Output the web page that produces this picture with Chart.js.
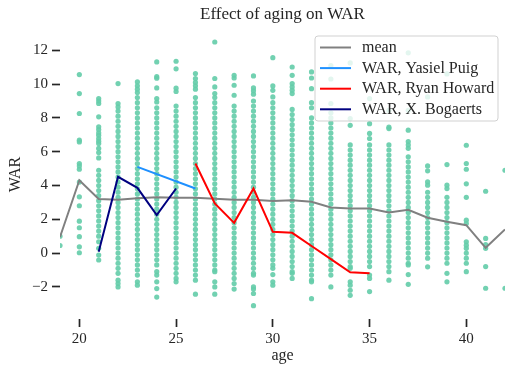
<!DOCTYPE html>
<html>
<head>
<meta charset="utf-8">
<script src="https://cdn.jsdelivr.net/npm/chart.js@4/dist/chart.umd.min.js"></script>
<style>
html,body{margin:0;padding:0;background:#fff;}
#wrap{width:524px;height:374px;}
</style>
</head>
<body>
<div id="wrap"><canvas id="c" width="524" height="374"></canvas></div>
<script>
// ---- data ----
const ages = [19,20,21,22,23,24,25,26,27,28,29,30,31,32,33,34,35,36,37,38,39,40,41,42];
const warByAge = [
  /*19*/ [0.45, 1.0],
  /*20*/ [10.56, 9.44, 8.26, 6.68, 6.58, 5.3, 5.16, 4.96, 4.2, 3.33, 2.8, 1.89, 1.5, 0.97, 0.37, 0.02],
  /*21*/ [9.14, 9.0, 8.85, 8.06, 7.47, 7.31, 7.11, 6.97, 6.78, 6.62, 6.48, 6.19, 5.95, 5.63, 4.9, 4.6, 4.3, 4.0, 3.7, 3.4, 3.1, 2.8, 2.5, 2.2, 1.9, 1.6, 1.3, 1.0, 0.67, 0.28, -0.12, -0.41],
  /*22*/ [10.03, 8.85, 8.65, 8.4, 8.1, 7.8, 7.5, 7.2, 6.9, 6.6, 6.3, 6.0, 5.7, 5.4, 5.1, 4.8, 4.5, 4.2, 3.9, 3.6, 3.3, 3.0, 2.7, 2.4, 2.1, 1.8, 1.5, 1.2, 0.9, 0.6, 0.3, 0.0, -0.3, -0.6, -0.9, -1.2, -1.6, -1.8, -2.0],
  /*23*/ [10.13, 9.9, 9.7, 9.5, 9.2, 8.9, 8.6, 8.3, 8.0, 7.7, 7.4, 7.1, 6.8, 6.5, 6.2, 5.9, 5.6, 5.3, 5.0, 4.7, 4.4, 4.1, 3.8, 3.5, 3.2, 2.9, 2.6, 2.3, 2.0, 1.7, 1.4, 1.1, 0.8, 0.5, 0.2, -0.1, -0.4, -0.7, -1.0, -1.3, -1.7, -1.9],
  /*24*/ [11.31, 10.44, 10.35, 9.77, 9.14, 8.94, 8.6, 8.3, 8.0, 7.7, 7.4, 7.1, 6.8, 6.5, 6.2, 5.9, 5.6, 5.3, 5.0, 4.7, 4.4, 4.1, 3.8, 3.5, 3.2, 2.9, 2.6, 2.3, 2.0, 1.7, 1.4, 1.1, 0.8, 0.5, 0.2, -0.1, -0.4, -0.7, -1.1, -1.3, -1.7, -2.1, -2.6],
  /*25*/ [11.35, 10.9, 9.76, 9.56, 8.7, 8.4, 8.1, 7.8, 7.5, 7.2, 6.9, 6.6, 6.3, 6.0, 5.7, 5.4, 5.1, 4.8, 4.5, 4.2, 3.9, 3.6, 3.3, 3.0, 2.7, 2.4, 2.1, 1.8, 1.5, 1.2, 0.9, 0.6, 0.3, 0.0, -0.3, -0.6, -0.9, -1.2, -1.5, -1.7],
  /*26*/ [10.62, 10.33, 10.1, 9.9, 9.7, 9.2, 8.9, 8.6, 8.3, 8.0, 7.7, 7.4, 7.1, 6.8, 6.5, 6.2, 5.9, 5.6, 5.3, 5.0, 4.7, 4.4, 4.1, 3.8, 3.5, 3.2, 2.9, 2.6, 2.3, 2.0, 1.7, 1.4, 1.1, 0.8, 0.5, 0.2, -0.1, -0.4, -0.7, -1.0, -1.3, -1.6, -2.43],
  /*27*/ [12.49, 10.33, 9.83, 9.44, 9.2, 8.9, 8.6, 8.3, 8.0, 7.7, 7.4, 7.1, 6.8, 6.5, 6.2, 5.9, 5.6, 5.3, 5.0, 4.7, 4.4, 4.1, 3.8, 3.5, 3.2, 2.9, 2.6, 2.3, 2.0, 1.7, 1.4, 1.1, 0.8, 0.5, 0.2, -0.1, -0.4, -0.7, -1.0, -1.1, -1.7, -2.0, -2.43],
  /*28*/ [10.52, 10.36, 9.93, 9.34, 8.7, 8.4, 8.1, 7.8, 7.5, 7.2, 6.9, 6.6, 6.3, 6.0, 5.7, 5.4, 5.1, 4.8, 4.5, 4.2, 3.9, 3.6, 3.3, 3.0, 2.7, 2.4, 2.1, 1.8, 1.5, 1.2, 0.9, 0.6, 0.3, 0.0, -0.3, -0.6, -0.9, -1.2, -1.5, -1.8, -2.13],
  /*29*/ [10.48, 9.77, 9.6, 9.4, 9.0, 8.7, 8.4, 8.1, 7.8, 7.5, 7.2, 6.9, 6.6, 6.3, 6.0, 5.7, 5.4, 5.1, 4.8, 4.5, 4.2, 3.9, 3.6, 3.3, 3.0, 2.7, 2.4, 2.1, 1.8, 1.5, 1.2, 0.9, 0.6, 0.3, 0.0, -0.3, -0.6, -0.9, -1.2, -1.3, -2.0, -2.13, -2.39, -3.11],
  /*30*/ [11.56, 9.89, 9.63, 9.24, 8.9, 8.6, 8.3, 8.0, 7.7, 7.4, 7.1, 6.8, 6.5, 6.2, 5.9, 5.6, 5.3, 5.0, 4.7, 4.4, 4.1, 3.8, 3.5, 3.2, 2.9, 2.6, 2.3, 2.0, 1.7, 1.4, 1.1, 0.8, 0.5, 0.2, -0.1, -0.4, -0.7, -0.9, -1.27, -1.7, -1.9],
  /*31*/ [11.01, 10.52, 10.03, 9.83, 9.63, 9.44, 8.5, 8.2, 7.9, 7.6, 7.3, 7.0, 6.7, 6.4, 6.1, 5.8, 5.5, 5.2, 4.9, 4.6, 4.3, 4.0, 3.7, 3.4, 3.1, 2.8, 2.5, 2.2, 1.9, 1.6, 1.3, 1.0, 0.7, 0.4, 0.1, -0.2, -0.5, -0.8, -1.1, -1.2, -1.5],
  /*32*/ [10.72, 10.36, 9.73, 8.9, 8.6, 8.0, 7.7, 7.4, 7.1, 6.8, 6.5, 6.2, 5.9, 5.6, 5.3, 5.0, 4.7, 4.4, 4.1, 3.8, 3.5, 3.2, 2.9, 2.6, 2.3, 2.0, 1.7, 1.4, 1.1, 0.8, 0.5, 0.2, -0.1, -0.4, -0.7, -1.0, -1.3, -1.6, -1.7, -2.7],
  /*33*/ [11.1, 10.3, 8.85, 8.3, 8.0, 7.7, 7.4, 7.1, 6.8, 6.5, 6.2, 5.9, 5.6, 5.3, 5.0, 4.7, 4.4, 4.1, 3.8, 3.5, 3.2, 2.9, 2.6, 2.3, 2.0, 1.7, 1.4, 1.1, 0.8, 0.5, 0.2, -0.1, -0.4, -0.7, -1.0, -1.3, -2.0],
  /*34*/ [11.25, 7.96, 7.56, 6.4, 6.1, 5.8, 5.5, 5.2, 4.9, 4.6, 4.3, 4.0, 3.7, 3.4, 3.1, 2.8, 2.5, 2.2, 1.9, 1.6, 1.3, 1.0, 0.7, 0.4, 0.1, -0.2, -0.5, -0.8, -0.9, -1.7, -1.9, -2.2, -2.5],
  /*35*/ [9.14, 7.66, 7.08, 6.78, 6.4, 6.1, 5.8, 5.5, 5.2, 4.9, 4.6, 4.3, 4.0, 3.7, 3.4, 3.1, 2.8, 2.5, 2.2, 1.9, 1.6, 1.3, 1.0, 0.7, 0.4, 0.1, -0.2, -0.5, -0.8, -1.3, -1.5, -2.28],
  /*36*/ [8.45, 7.45, 7.37, 6.4, 6.1, 5.8, 5.5, 5.2, 4.9, 4.6, 4.3, 4.0, 3.7, 3.4, 3.1, 2.8, 2.5, 2.2, 1.9, 1.6, 1.3, 1.0, 0.7, 0.4, 0.1, -0.2, -0.5, -0.8, -1.1, -1.6],
  /*37*/ [11.85, 8.45, 7.27, 6.6, 6.4, 6.2, 5.7, 5.4, 5.1, 4.8, 4.5, 4.2, 3.9, 3.6, 3.3, 3.0, 2.7, 2.4, 2.1, 1.8, 1.5, 1.2, 0.9, 0.6, 0.3, 0.0, -0.3, -0.6, -0.7, -1.27, -1.85],
  /*38*/ [9.24, 5.16, 4.87, 4.21, 4.02, 3.6, 3.3, 3.0, 2.7, 2.4, 2.1, 1.8, 1.5, 1.2, 0.9, 0.6, 0.3, 0.0, -0.3, -0.81],
  /*39*/ [10.6, 5.24, 4.02, 3.82, 3.3, 3.0, 2.7, 2.4, 2.1, 1.8, 1.5, 1.2, 0.9, 0.6, 0.3, 0.0, -0.3, -0.6, -1.2, -1.7],
  /*40*/ [6.38, 5.3, 4.96, 4.1, 3.3, 1.95, 1.75, 0.67, 0.47, 0.28, 0.0, -0.3, -0.6, -1.1],
  /*41*/ [3.66, 0.87, 0.5, 0.28, -0.8, -2.08],
  /*42*/ [4.9, -2.08]
];
const meanWar = [0.95, 4.31, 3.2, 3.15, 3.25, 3.3, 3.27, 3.28, 3.22, 3.15, 3.15, 3.08, 3.13, 3.04, 2.7, 2.64, 2.64, 2.4, 2.56, 2.09, 1.85, 1.65, 0.31, 1.4];
const puigAges = [23, 26];
const puigWar = [5.1, 3.82];
const howardAges = [26, 27, 28, 29, 30, 31, 32, 33, 34, 35];
const howardWar = [5.3, 2.94, 1.79, 3.82, 1.26, 1.2, 0.42, -0.36, -1.14, -1.2];
const bogaertsAges = [21, 22, 23, 24, 25];
const bogaertsWar = [0.08, 4.51, 3.86, 2.25, 3.82];
const xTicks = [20, 25, 30, 35, 40];
const yTicks = [-2, 0, 2, 4, 6, 8, 10, 12];
const seriesLabels = ['mean', 'WAR, Yasiel Puig', 'WAR, Ryan Howard', 'WAR, X. Bogaerts'];
const titleText = 'Effect of aging on WAR';

// ---- build datasets ----
const scatterPts = [];
ages.forEach((a, i) => warByAge[i].forEach(v => scatterPts.push({x: a, y: v})));
const pair = (xs, ys) => xs.map((x, i) => ({x: x, y: ys[i]}));

const SERIF = '"Liberation Serif", "DejaVu Serif", serif';
const lineColors = ['#808080', '#1e90ff', '#ff0000', '#000080'];

const overlay = {
  id: 'overlay',
  afterDraw(chart) {
    const ctx = chart.ctx, ca = chart.chartArea;
    ctx.save();
    // title
    ctx.fillStyle = '#262626';
    ctx.font = '17px ' + SERIF;
    ctx.textAlign = 'center';
    ctx.textBaseline = 'middle';
    ctx.fillText(titleText, (ca.left + ca.right) / 2, 15);
    // legend
    const bw = 183, bh = 85;
    const bx = ca.right - 7 - bw, by = ca.top + 6;
    ctx.beginPath();
    ctx.roundRect(bx, by, bw, bh, 3);
    ctx.fillStyle = 'rgba(255,255,255,0.8)';
    ctx.fill();
    ctx.strokeStyle = 'rgba(204,204,204,0.9)';
    ctx.lineWidth = 1;
    ctx.stroke();
    ctx.font = '16px ' + SERIF;
    ctx.textAlign = 'left';
    seriesLabels.forEach((lab, i) => {
      const cy = by + 11.5 + i * 20.6;
      ctx.beginPath();
      ctx.moveTo(bx + 5, cy);
      ctx.lineTo(bx + 36, cy);
      ctx.strokeStyle = lineColors[i];
      ctx.lineWidth = 2;
      ctx.stroke();
      ctx.fillStyle = '#262626';
      ctx.fillText(lab, bx + 47, cy + 0.5);
    });
    ctx.restore();
  }
};

const lineDs = (label, data, color, order) => ({
  type: 'line', label, data, borderColor: color, backgroundColor: color,
  borderWidth: 2, pointRadius: 0, tension: 0, fill: false, order
});

new Chart(document.getElementById('c'), {
  type: 'scatter',
  data: {
    datasets: [
      {label: 'WAR', data: scatterPts, backgroundColor: 'rgba(102,205,170,0.92)', borderWidth: 0, pointRadius: 2.6, order: 10},
      lineDs(seriesLabels[0], pair(ages, meanWar), lineColors[0], 4),
      lineDs(seriesLabels[1], pair(puigAges, puigWar), lineColors[1], 3),
      lineDs(seriesLabels[2], pair(howardAges, howardWar), lineColors[2], 2),
      lineDs(seriesLabels[3], pair(bogaertsAges, bogaertsWar), lineColors[3], 1)
    ]
  },
  options: {
    responsive: false,
    animation: false,
    devicePixelRatio: 1,
    layout: {padding: {left: 0, right: 19, top: 30, bottom: 0}},
    plugins: {legend: {display: false}, tooltip: {enabled: false}, title: {display: false}},
    scales: {
      x: {
        type: 'linear', min: 19, max: 42,
        afterBuildTicks: s => { s.ticks = xTicks.map(v => ({value: v})); },
        afterFit: s => { s.height = 55; },
        border: {display: false},
        grid: {drawOnChartArea: false, drawTicks: true, tickLength: 8, tickColor: '#262626', tickWidth: 1.7},
        ticks: {font: {family: SERIF, size: 15}, color: '#262626', padding: 3, maxRotation: 0},
        title: {display: true, text: 'age', font: {family: SERIF, size: 16}, color: '#262626', padding: {top: 0, bottom: 9}}
      },
      y: {
        type: 'linear', min: -3.9, max: 13.2,
        afterBuildTicks: s => { s.ticks = yTicks.map(v => ({value: v})); },
        afterFit: s => { s.width = 60; },
        border: {display: false},
        grid: {drawOnChartArea: false, drawTicks: true, tickLength: 8, tickColor: '#262626', tickWidth: 1.7},
        ticks: {font: {family: SERIF, size: 15}, color: '#262626', padding: 4,
          callback: v => String(v).replace('-', '\u2212')},
        title: {display: true, text: 'WAR', font: {family: SERIF, size: 16}, color: '#262626', padding: {top: 6, bottom: 0}}
      }
    }
  },
  plugins: [overlay]
});
</script>
</body>
</html>
